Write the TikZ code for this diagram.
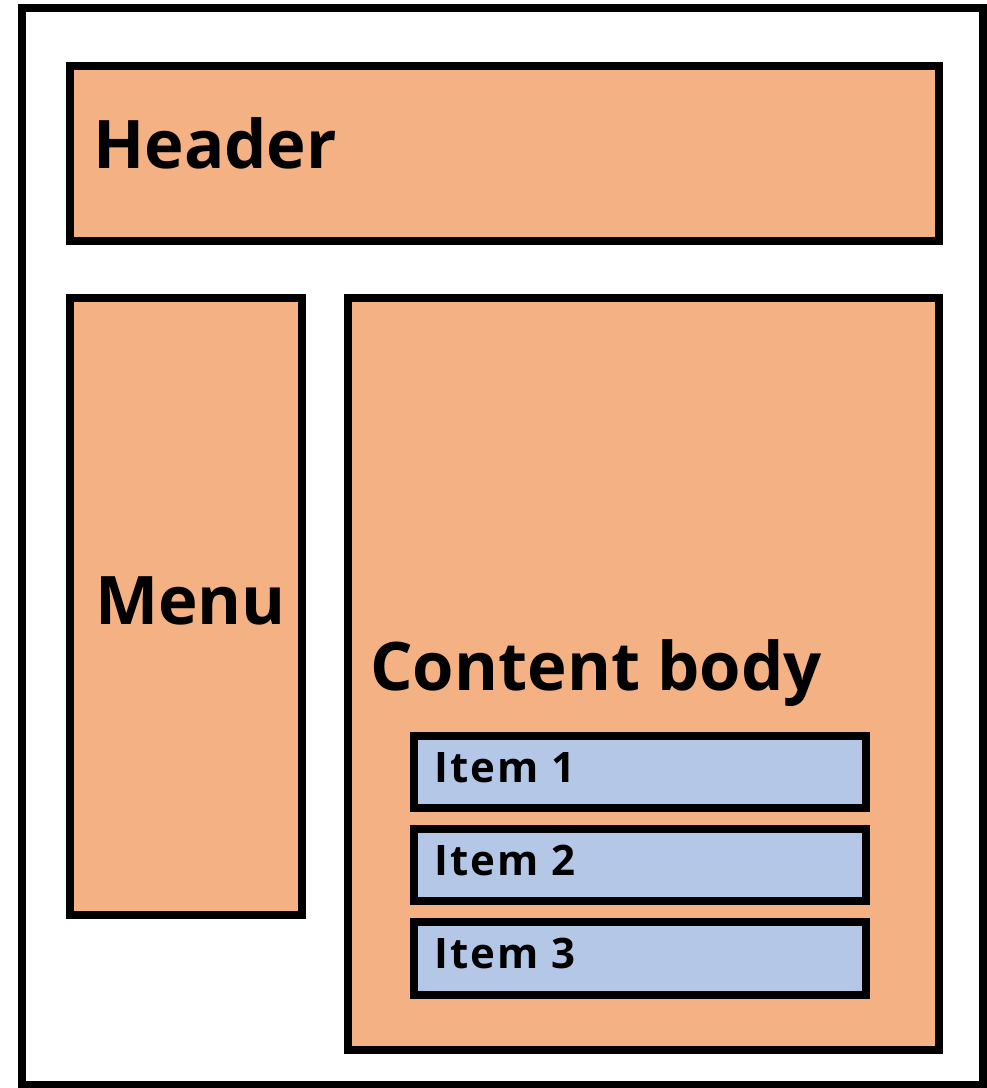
\documentclass[tikz,border=0pt]{standalone}
\usepackage{fontspec}
\setmainfont{Open Sans}
\definecolor{panelorange}{HTML}{F4B183}
\definecolor{itemblue}{HTML}{B4C7E7}
\begin{document}
\begin{tikzpicture}[x=1pt,y=-1pt,
  box/.style={draw=black,line width=8pt,inner sep=0pt,outer sep=0pt,anchor=north west},
  panel/.style={box,fill=panelorange},
  itembox/.style={box,fill=itemblue},
  bigtext/.style={font=\fontsize{67}{72}\selectfont\bfseries,anchor=base west,inner sep=0pt},
  smalltext/.style={font=\fontsize{42}{46}\selectfont\bfseries\addfontfeature{LetterSpace=5},anchor=base west,inner sep=0pt}]
  \useasboundingbox (0,0) rectangle (987,1088);
  % page frame
  \node[box,fill=white,minimum width=961pt,minimum height=1077pt] (page) at (22,8) {};
  % layout regions
  \node[panel,minimum width=869pt,minimum height=175pt] (header) at (70,66) {};
  \node[panel,minimum width=232pt,minimum height=617pt] (menu) at (70,298) {};
  \node[panel,minimum width=591pt,minimum height=752pt] (content) at (348,298) {};
  % list items
  \node[itembox,minimum width=452pt,minimum height=72pt] (item1) at (414,736) {};
  \node[itembox,minimum width=452pt,minimum height=72pt] (item2) at (414,829) {};
  \node[itembox,minimum width=452pt,minimum height=73pt] (item3) at (414,922) {};
  % labels
  \node[bigtext] (headerlabel) at (93,168) {Header};
  \node[bigtext] (menulabel) at (95,624) {Menu};
  \node[bigtext] (contentlabel) at (370,690) {Content body};
  \node[smalltext] (item1label) at (434,782) {Item 1};
  \node[smalltext] (item2label) at (434,875) {Item 2};
  \node[smalltext] (item3label) at (434,968) {Item 3};
\end{tikzpicture}
\end{document}
